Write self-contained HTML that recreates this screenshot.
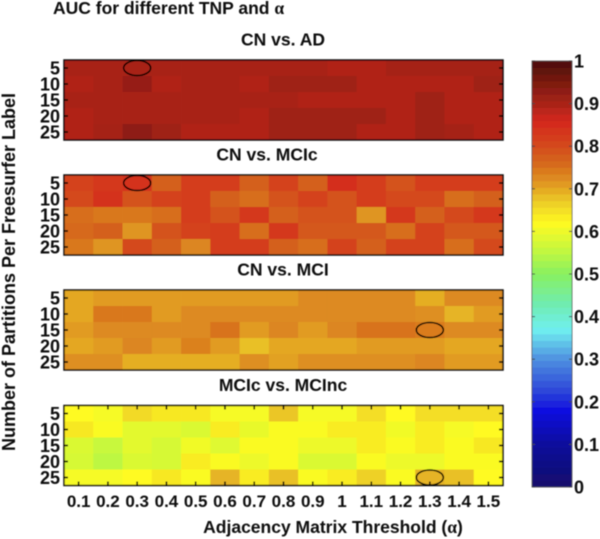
<!DOCTYPE html>
<html>
<head>
<meta charset="utf-8">
<style>
html,body{margin:0;padding:0;background:#fff;width:600px;height:539px;overflow:hidden}
svg{display:block}
text{font-family:"Liberation Sans",sans-serif;font-weight:bold;fill:#0a0a0a}
</style>
</head>
<body>
<svg id="chart" xmlns="http://www.w3.org/2000/svg" width="600" height="539" viewBox="0 0 600 539">
  <defs><filter id="soft" x="-5%" y="-5%" width="110%" height="110%"><feGaussianBlur stdDeviation="0.45"/></filter></defs>
  <g id="root" filter="url(#soft)">
    <text x="53" y="14" font-size="17.5">AUC for different TNP and <tspan font-family="Liberation Serif">α</tspan></text>
    <text x="15" y="272" font-size="18" text-anchor="middle" transform="rotate(-90 15 272)">Number of Partitions Per Freesurfer Label</text>
    <text x="333" y="533" font-size="17.5" text-anchor="middle">Adjacency Matrix Threshold (<tspan font-family="Liberation Serif">α</tspan>)</text>
  </g>
</svg>
<script>
const columnLabels = ['0.1','0.2','0.3','0.4','0.5','0.6','0.7','0.8','0.9','1','1.1','1.2','1.3','1.4','1.5'];
const rowLabels = ['5','10','15','20','25'];
const colorbarTicks = [0,0.1,0.2,0.3,0.4,0.5,0.6,0.7,0.8,0.9,1];

const cnAdValues = [
  [.9,.9,.9,.9,.9,.9,.9,.9,.9,.893,.893,.903,.903,.903,.903],
  [.893,.9,.92,.893,.9,.9,.893,.91,.91,.91,.893,.893,.893,.893,.91],
  [.9,.9,.9,.9,.9,.9,.9,.9,.893,.893,.893,.893,.91,.893,.893],
  [.893,.9,.9,.9,.9,.9,.893,.91,.91,.91,.91,.893,.91,.893,.893],
  [.893,.903,.93,.91,.893,.893,.893,.91,.91,.91,.893,.893,.91,.903,.893]
];
const cnMcicValues = [
  [.81,.83,.84,.77,.82,.82,.77,.81,.77,.85,.82,.79,.82,.82,.82],
  [.80,.84,.79,.81,.82,.77,.755,.79,.81,.79,.82,.80,.80,.755,.77],
  [.755,.745,.745,.755,.82,.79,.83,.77,.79,.79,.715,.83,.77,.80,.83],
  [.76,.77,.715,.79,.81,.82,.755,.83,.78,.78,.78,.755,.81,.78,.78],
  [.745,.715,.80,.77,.73,.82,.82,.77,.755,.81,.77,.81,.81,.755,.80]
];
const cnMciValues = [
  [.70,.71,.71,.71,.71,.71,.71,.71,.725,.725,.725,.725,.695,.725,.725],
  [.70,.745,.745,.71,.725,.725,.725,.725,.725,.725,.725,.725,.72,.69,.71],
  [.71,.725,.725,.725,.725,.75,.71,.73,.71,.73,.75,.75,.74,.725,.725],
  [.70,.71,.73,.71,.735,.71,.68,.70,.70,.70,.71,.71,.71,.70,.70],
  [.72,.72,.695,.695,.695,.695,.72,.705,.72,.72,.72,.72,.73,.71,.71]
];
const mcicMcincValues = [
  [.62,.61,.655,.64,.64,.61,.61,.675,.61,.61,.65,.62,.65,.65,.65],
  [.64,.615,.59,.59,.58,.635,.595,.615,.615,.635,.635,.605,.635,.61,.62],
  [.58,.56,.59,.575,.605,.585,.615,.615,.60,.60,.635,.615,.635,.615,.64],
  [.575,.55,.58,.575,.635,.615,.60,.615,.58,.58,.615,.60,.60,.615,.615],
  [.61,.61,.62,.64,.615,.69,.635,.68,.615,.635,.665,.615,.69,.68,.62]
];
const panelTitles = ['CN vs. AD','CN vs. MCIc','CN vs. MCI','MCIc vs. MCInc'];
const bestColumn = [2,2,12,12];
const bestRow = [0,0,2,4];

const svg = document.getElementById('chart');
const root = document.getElementById('root');
const NS = 'http://www.w3.org/2000/svg';
const plotLeft = 64, plotRight = 503, plotHeight = 80;
const panelTops = [60,175,290,405.5];
const panelTitleX = [283,267,283,283];
const cbLeft = 532, cbRight = 572, cbTop = 61, cbBottom = 487;
const panelData = [cnAdValues,cnMcicValues,cnMciValues,mcicMcincValues];

const colorStops = [
  [0,'#14106a'],[.1,'#0a0a9c'],[.18,'#1010e0'],[.22,'#2a40d8'],[.3,'#4f90e0'],[.37,'#6ff0f0'],
  [.43,'#70ecb0'],[.5,'#88f060'],[.56,'#c8f83c'],[.62,'#fffa20'],[.67,'#eccc28'],[.72,'#de8f20'],
  [.77,'#d4601e'],[.82,'#d43c1c'],[.86,'#d4281e'],[.9,'#a82218'],[.95,'#7c1a10'],[1,'#4a0e08']
];
function hexToRgb(h){return [1,3,5].map(i=>parseInt(h.substr(i,2),16));}
function colorFor(v){
  const t = Math.max(0,Math.min(1,v));
  for(let i=1;i<colorStops.length;i++){
    if(t<=colorStops[i][0]){
      const a=colorStops[i-1],b=colorStops[i],f=(t-a[0])/(b[0]-a[0]);
      const ca=hexToRgb(a[1]),cb=hexToRgb(b[1]);
      return 'rgb('+ca.map((c,k)=>Math.round(c+(cb[k]-c)*f)).join(',')+')';
    }
  }
  return colorStops[colorStops.length-1][1];
}
function xScale(col){return plotLeft+(plotRight-plotLeft)*col/columnLabels.length;}
function yScale(row,top){return top+plotHeight*row/rowLabels.length;}
function cbScale(v){return cbBottom-(cbBottom-cbTop)*v;}
function make(tag,attrs,parent){
  const el=document.createElementNS(NS,tag);
  for(const k in attrs){el.setAttribute(k,attrs[k]);}
  (parent||root).appendChild(el);
  return el;
}

panelData.forEach((values,p)=>{
  const top = panelTops[p];
  const g = make('g',{});
  
  
  const title = make('text',{x:panelTitleX[p],y:top-14.5,'font-size':17.5,'text-anchor':'middle'},g);
  
  
  title.textContent = panelTitles[p];
  values.forEach((row,r)=>{
    row.forEach((v,c)=>{
      const cell = make('rect',{x:xScale(c),y:yScale(r,top),width:xScale(c+1)-xScale(c)+.4,height:yScale(r+1,top)-yScale(r,top)+.4,fill:colorFor(v)},g);
      
      
    });
  });
  const frame = make('rect',{x:plotLeft,y:top,width:plotRight-plotLeft,height:plotHeight,fill:'none',stroke:'#111','stroke-width':1.5},g);
  
  
  rowLabels.forEach((lab,r)=>{
    const y = yScale(r+.5,top);
    make('line',{x1:plotLeft,x2:plotLeft+4,y1:y,y2:y,stroke:'#000','stroke-width':1.6},g);
    make('line',{x1:plotRight-4,x2:plotRight,y1:y,y2:y,stroke:'#000','stroke-width':1.6},g);
    const t = make('text',{x:60,y:y+6.5,'font-size':18,'text-anchor':'end'},g);
    
    
    t.textContent = lab;
  });
  const e = make('ellipse',{cx:xScale(bestColumn[p]+.5),cy:yScale(bestRow[p]+.5,top),rx:13.5,ry:7.5,fill:'none',stroke:'#000','stroke-width':1.6},g);
  
  
});

columnLabels.forEach((lab,c)=>{
  const x = xScale(c+.5), top = panelTops[3];
  make('line',{x1:x,x2:x,y1:top,y2:top+4,stroke:'#000','stroke-width':1.6});
  make('line',{x1:x,x2:x,y1:top+plotHeight-4,y2:top+plotHeight,stroke:'#000','stroke-width':1.6});
  const t = make('text',{x:x,y:507,'font-size':17,'text-anchor':'middle'});
  
  
  t.textContent = lab;
});

const levels = 64;
for(let i=0;i<levels;i++){
  const v0=i/levels, v1=(i+1)/levels;
  const band = make('rect',{x:cbLeft,y:cbScale(v1),width:cbRight-cbLeft,height:cbScale(v0)-cbScale(v1)+.4,fill:colorFor((v0+v1)/2)});
  
  
}
const cbFrame = make('rect',{x:cbLeft,y:cbTop,width:cbRight-cbLeft,height:cbBottom-cbTop,fill:'none',stroke:'#555','stroke-width':.8});


colorbarTicks.forEach(v=>{
  const y = cbScale(v);
  make('line',{x1:cbLeft,x2:cbLeft+3,y1:y,y2:y,stroke:'#444'});
  make('line',{x1:cbRight-3,x2:cbRight,y1:y,y2:y,stroke:'#444'});
  const t = make('text',{x:574,y:y+6.5,'font-size':18});
  
  
  t.textContent = String(v);
});
</script>
</body>
</html>
